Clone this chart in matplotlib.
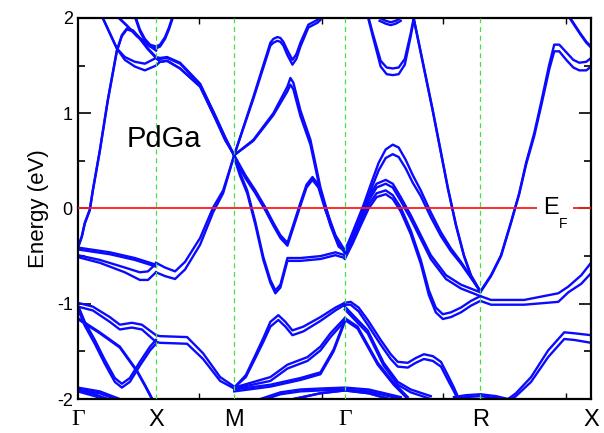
import matplotlib
matplotlib.use("Agg")
import matplotlib.pyplot as plt
from matplotlib.ticker import MultipleLocator

plt.rcParams['font.family'] = ['Liberation Sans', 'DejaVu Sans']
plt.rcParams['axes.unicode_minus'] = False

# high symmetry points along the k path
nodes = [0.0, 0.5, 1.0, 1.707, 2.573, 3.28]
node_labels = ['Γ', 'X', 'M', 'Γ', 'R', 'X']

# each band: k positions, energy (eV), splitting to the second line (eV)
A_k = [0, .026, .045, .077, .096, .141, .192, .25, .282, .314, .353, .397, .449, .5,
       .526, .571, .654, .782, .878, .942, 1.0]
A_e = [-.41, -.29, -.15, -.01, .19, .61, 1.14, 1.66, 1.82, 1.89, 1.87, 1.79, 1.68, 1.59,
       1.58, 1.59, 1.53, 1.31, .98, .75, .56]
A_d = 0.01

a_k = [.160, .205, .25, .301, .365, .429, .5, .526, .571, .654, .782, .878, .942, 1.0]
a_e = [2.0, 1.84, 1.68, 1.56, 1.49, 1.45, 1.50, 1.54, 1.55, 1.47, 1.28, .95, .72, .56]
a_d = [0, 0, 0, -.03, -.05, -.07, -.08, 0, 0, 0, 0, 0, 0, 0]

c_k = [.263, .314, .378, .442, .5]
c_e = [2.0, 1.92, 1.81, 1.73, 1.66]
c_d = 0.0

p1_k = [.372, .397, .429, .462, .5, .526, .558, .583, .603]
p1_e = [2.0, 1.88, 1.78, 1.72, 1.70, 1.72, 1.80, 1.90, 2.0]
p1_d = 0.02

e_k = [.5, .558, .622, .686, .782, .865, .929, 1.0]
e_e = [-.57, -.62, -.66, -.56, -.31, .01, .19, .56]
e_d = [.1, .09, .08, .08, .07, .05, .03, 0]

f_k = [0, .205, .365, .462, .5]
f_e = [-.41, -.46, -.52, -.57, -.59]
f_d = 0.02

g_k = [0, .141, .301, .397, .449, .5]
g_e = [-.49, -.54, -.62, -.67, -.66, -.58]
g_d = [.02, .03, .05, .08, .09, .09]

h_k = [0, .096, .205, .269, .346, .410, .5, .526, .699, .801, .910, 1.0]
h_e = [-.99, -1.03, -1.14, -1.22, -1.20, -1.22, -1.33, -1.34, -1.35, -1.52, -1.77, -1.87]
h_d = [.04, .04, .05, .05, .05, .05, .07, .07, .07, .06, .04, .02]

i_k = [0, .045, .109, .173, .237, .282, .333, .397, .462, .5]
i_e = [-1.01, -1.19, -1.38, -1.59, -1.78, -1.84, -1.78, -1.61, -1.45, -1.38]
i_d = 0.04

j_k = [0, .141, .269, .378, .429, .474]
j_e = [-1.15, -1.30, -1.45, -1.70, -1.85, -1.99]
j_d = 0.01

bl1_k = [0, .141, .269]
bl1_e = [-1.88, -1.92, -2.0]
bl1_d = 0.02

bl2_k = [0, .109, .192]
bl2_e = [-1.90, -1.95, -2.0]
bl2_d = 0.02

kb_k = [1.0, 1.122, 1.231, 1.25, 1.276, 1.295, 1.314, 1.340, 1.372, 1.397, 1.423, 1.474, 1.532, 1.551]
kb_e = [.56, 1.17, 1.74, 1.78, 1.80, 1.79, 1.75, 1.66, 1.56, 1.62, 1.74, 1.93, 1.98, 2.01]
kb_d = [0, .02, .03, .04, .04, .04, .04, .05, .05, .05, .04, .03, .03, .03]

l_k = [1.0, 1.122, 1.25, 1.34, 1.359, 1.378, 1.423, 1.487, 1.551, 1.615, 1.667, 1.707]
l_e = [.56, .72, 1.0, 1.28, 1.37, 1.32, 1.03, .72, .22, -.15, -.38, -.44]
l_d = [0, .01, .02, .05, .07, .07, .06, .05, .04, .03, .02, .01]

n_k = [1.0, 1.071, 1.135, 1.199, 1.25, 1.295, 1.340, 1.372, 1.423, 1.462, 1.5, 1.538, 1.583, 1.647, 1.707]
n_e = [.56, .35, .19, .01, -.15, -.28, -.36, -.20, .06, .25, .33, .25, .01, -.28, -.44]
n_d = 0.03

m_k = [1.0, 1.038, 1.083, 1.135, 1.186, 1.231, 1.263, 1.295, 1.340, 1.423, 1.551, 1.647, 1.707]
m_e = [.56, .37, .19, -.14, -.51, -.75, -.86, -.80, -.52, -.52, -.50, -.46, -.49]
m_d = 0.03

o_k = [1.0, 1.074, 1.135, 1.186, 1.231, 1.282, 1.327, 1.372, 1.442, 1.551, 1.647, 1.707]
o_e = [-1.88, -1.75, -1.54, -1.36, -1.19, -1.12, -1.19, -1.28, -1.24, -1.14, -1.04, -.99]
o_d = [0, .02, .03, .04, .05, .05, .05, .05, .05, .04, .03, .02]

p_k = [1.0, 1.231, 1.340, 1.468, 1.551, 1.615, 1.707]
p_e = [-1.88, -1.77, -1.64, -1.56, -1.45, -1.31, -1.15]
p_d = [.01, .04, .04, .04, .04, .04, .03]

q_k = [1.0, 1.231, 1.423, 1.551, 1.635, 1.707]
q_e = [-1.90, -1.85, -1.78, -1.72, -1.48, -1.17]
q_d = 0.02

r1_k = [1.167, 1.295, 1.423, 1.551, 1.707, 1.859, 2.064]
r1_e = [-2.0, -1.93, -1.90, -1.89, -1.88, -1.90, -1.98]
r1_d = 0.02

r2_k = [1.38, 1.55, 1.707, 1.86, 1.99]
r2_e = [-2.0, -1.94, -1.91, -1.94, -2.0]
r2_d = 0.0

rt_k = [1.859, 1.885, 1.936, 1.974, 2.013, 2.051, 2.090, 2.128, 2.147]
rt_e = [2.0, 1.84, 1.55, 1.48, 1.47, 1.48, 1.57, 1.84, 2.0]
rt_d = [.02, .03, .06, .07, .07, .07, .06, .03, .02]

s_k = [1.929, 1.968, 2.0, 2.032, 2.064]
s_e = [2.0, 1.97, 1.955, 1.97, 2.0]
s_d = 0.03

t_k = [2.147, 2.269, 2.365, 2.417, 2.468, 2.513, 2.573, 2.641, 2.705, 2.769, 2.821, 2.865,
       2.917, 2.962, 3.013, 3.045, 3.077, 3.122, 3.167, 3.205, 3.250, 3.28]
t_e = [2.0, 1.03, .22, -.17, -.49, -.70, -.87, -.70, -.49, -.14, .16, .48,
       .79, 1.12, 1.51, 1.72, 1.72, 1.64, 1.56, 1.53, 1.54, 1.58]
t_d = [.01, .01, .01, .01, .01, .01, .01, .01, .01, .01, .01, .02,
       .03, .04, .05, .07, .07, .08, .08, .08, .09, .09]

u_k = [3.147, 3.211, 3.250, 3.28]
u_e = [2.0, 1.84, 1.75, 1.70]
u_d = 0.01

H1_k = [1.707, 1.744, 1.788, 1.827, 1.872, 1.923, 1.968, 2.013, 2.051, 2.096, 2.141, 2.192,
        2.256, 2.321, 2.385, 2.449, 2.513, 2.573]
H1_e = [-.44, -.30, -.12, .04, .25, .48, .62, .67, .64, .51, .35, .19,
        -.04, -.25, -.42, -.56, -.72, -.87]
H1_d = [.01, .02, .03, .05, .06, .08, .09, .10, .10, .09, .08, .06, .05, .04, .03, .02, .01, 0]

H2a_k = [1.707, 1.756, 1.808, 1.859, 1.910, 1.968, 2.013, 2.064, 2.128, 2.192, 2.256, 2.353, 2.449, 2.573]
H2a_e = [-.46, -.28, -.07, .12, .26, .30, .26, .12, -.07, -.28, -.49, -.70, -.80, -.88]
H2a_d = 0.04

H2b_k = [1.707, 1.756, 1.808, 1.859, 1.910, 1.968, 2.013, 2.064, 2.128, 2.192, 2.244, 2.288,
         2.333, 2.385, 2.449, 2.513, 2.573, 2.641, 2.853, 3.071, 3.135, 3.218, 3.28]
H2b_e = [-.49, -.33, -.14, .04, .16, .19, .14, .01, -.23, -.54, -.86, -1.04,
         -1.11, -1.09, -1.04, -.97, -.92, -.96, -.96, -.89, -.82, -.70, -.57]
H2b_d = [.04, .04, .04, .04, .04, .04, .04, .04, .04, .04, .05, .05,
         .05, .05, .05, .05, .05, .05, .05, .09, .06, .09, .11]

y1_k = [1.707, 1.744, 1.795, 1.853, 1.936, 2.0, 2.045, 2.109, 2.160, 2.212, 2.269, 2.321, 2.365, 2.404, 2.436]
y1_e = [-.99, -.98, -1.04, -1.17, -1.38, -1.53, -1.61, -1.62, -1.57, -1.53, -1.55, -1.61, -1.75, -1.88, -2.0]
y1_d = [.02, .03, .04, .05, .05, .05, .05, .05, .05, .05, .05, .05, .05, .04, .03]

y2_k = [1.707, 1.853, 1.955, 2.045, 2.128, 2.256]
y2_e = [-1.03, -1.28, -1.62, -1.82, -1.90, -1.97]
y2_d = 0.03

y3_k = [1.707, 1.788, 1.917, 2.019, 2.109]
y3_e = [-1.15, -1.24, -1.62, -1.83, -1.98]
y3_d = 0.02

z_k = [2.404, 2.481, 2.573, 2.673, 2.75, 2.80, 2.897, 3.006, 3.109, 3.173, 3.28]
z_e = [-1.98, -1.96, -1.95, -1.97, -2.0, -1.94, -1.77, -1.49, -1.30, -1.31, -1.33]
z_d = [.02, .02, .02, .02, .02, .03, .05, .07, .07, .07, .08]

bands = [(A_k, A_e, A_d), (a_k, a_e, a_d), (c_k, c_e, c_d), (p1_k, p1_e, p1_d),
         (e_k, e_e, e_d), (f_k, f_e, f_d), (g_k, g_e, g_d), (h_k, h_e, h_d),
         (i_k, i_e, i_d), (j_k, j_e, j_d), (bl1_k, bl1_e, bl1_d), (bl2_k, bl2_e, bl2_d),
         (kb_k, kb_e, kb_d), (l_k, l_e, l_d), (n_k, n_e, n_d), (m_k, m_e, m_d),
         (o_k, o_e, o_d), (p_k, p_e, p_d), (q_k, q_e, q_d), (r1_k, r1_e, r1_d),
         (r2_k, r2_e, r2_d), (rt_k, rt_e, rt_d), (s_k, s_e, s_d), (t_k, t_e, t_d),
         (u_k, u_e, u_d), (H1_k, H1_e, H1_d), (H2a_k, H2a_e, H2a_d), (H2b_k, H2b_e, H2b_d),
         (y1_k, y1_e, y1_d), (y2_k, y2_e, y2_d), (y3_k, y3_e, y3_d), (z_k, z_e, z_d)]

blue = '#0a0aff'

fig = plt.figure(figsize=(6.04, 4.33), dpi=100)
ax = fig.add_axes([0.1287, 0.0785, 0.8498, 0.88])

for k, e, d in bands:
    if not isinstance(d, list):
        d = [d] * len(k)
    e2 = [v - s for v, s in zip(e, d)]
    ax.plot(k, e, color=blue, lw=1.7, solid_joinstyle='round', zorder=2)
    ax.plot(k, e2, color=blue, lw=1.7, solid_joinstyle='round', zorder=2)

# dashed lines at the inner high symmetry points
for v in nodes[1:-1]:
    ax.axvline(v, color='#44e044', ls=(0, (4, 3)), lw=0.9, zorder=3)

# Fermi level, with a gap for the label
ax.hlines(0, 0, 2.935, color='#ff1a1a', lw=1.3, zorder=3)
ax.hlines(0, 3.165, 3.28, color='#ff1a1a', lw=1.3, zorder=3)
ax.text(2.975, 0.0, 'E', fontsize=17, va='center', ha='left')
ax.text(3.075, -0.16, 'F', fontsize=10, va='center', ha='left')

ax.text(0.314, 0.73, 'PdGa', fontsize=21, va='center', ha='left')

ax.set_xlim(0, 3.28)
ax.set_ylim(-2, 2)
ax.set_xticks(nodes)
ax.set_xticklabels(node_labels, fontsize=17)
for lab in ax.get_xticklabels():
    if lab.get_text() == 'Γ':
        lab.set_fontfamily('Liberation Serif')
ax.set_xticks([0.775, 1.56, 2.335, 3.12], minor=True)
ax.tick_params(axis='x', which='major', length=0, pad=7)
ax.tick_params(axis='x', which='minor', direction='in', length=4, width=1, top=True, bottom=True)

ax.set_yticks([-2, -1, 0, 1, 2])
ax.set_yticklabels(['-2', '-1', '0', '1', '2'], fontsize=13)
ax.yaxis.set_minor_locator(MultipleLocator(0.5))
ax.tick_params(axis='y', which='major', direction='in', length=9, width=1.2, left=True, right=True)
ax.tick_params(axis='y', which='minor', direction='in', length=5, width=1.2, left=True, right=True)
ax.set_ylabel('Energy (eV)', fontsize=16, labelpad=6)

for sp in ax.spines.values():
    sp.set_linewidth(1.6)

fig.savefig('out.png', dpi=100)
